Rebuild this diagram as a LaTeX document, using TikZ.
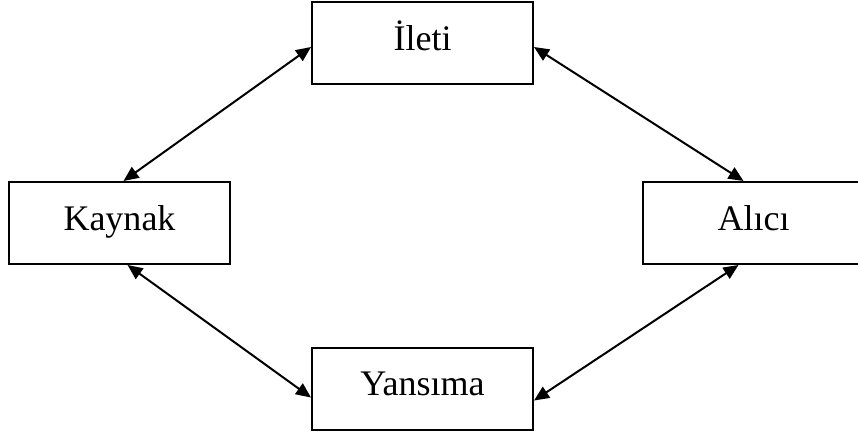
\documentclass[tikz,border=0pt]{standalone}
\usepackage{fontspec}
\setmainfont{Liberation Serif}
\usetikzlibrary{arrows.meta}
\begin{document}
\begin{tikzpicture}[x=1pt,y=-1pt,
  box/.style={draw=black, line width=2pt, fill=white, rectangle,
    minimum width=221pt, minimum height=82pt, inner sep=0pt,
    text height=22pt, text depth=8pt,
    font=\fontsize{36}{40}\selectfont},
  link/.style={line width=2pt,
    {Triangle[length=15pt,width=13pt]}-{Triangle[length=15pt,width=13pt]}}]
\useasboundingbox (0,0) rectangle (858,436);
\node[box] (ileti) at (422.5,43) {İleti};
\node[box] (kaynak) at (119.5,223) {Kaynak};
\node[box] (alici) at (753.5,223) {Alıcı};
\node[box] (yansima) at (422.5,388.5) {Yansıma};
\draw[link] ([xshift=4pt]kaynak.north) -- ([yshift=-4pt]ileti.west);
\draw[link] ([yshift=-4pt]ileti.east) -- ([xshift=-10pt]alici.north);
\draw[link] ([xshift=8pt]kaynak.south) -- ([yshift=-9pt]yansima.west);
\draw[link] ([yshift=-12pt]yansima.east) -- ([xshift=-15pt]alici.south);
\end{tikzpicture}
\end{document}
